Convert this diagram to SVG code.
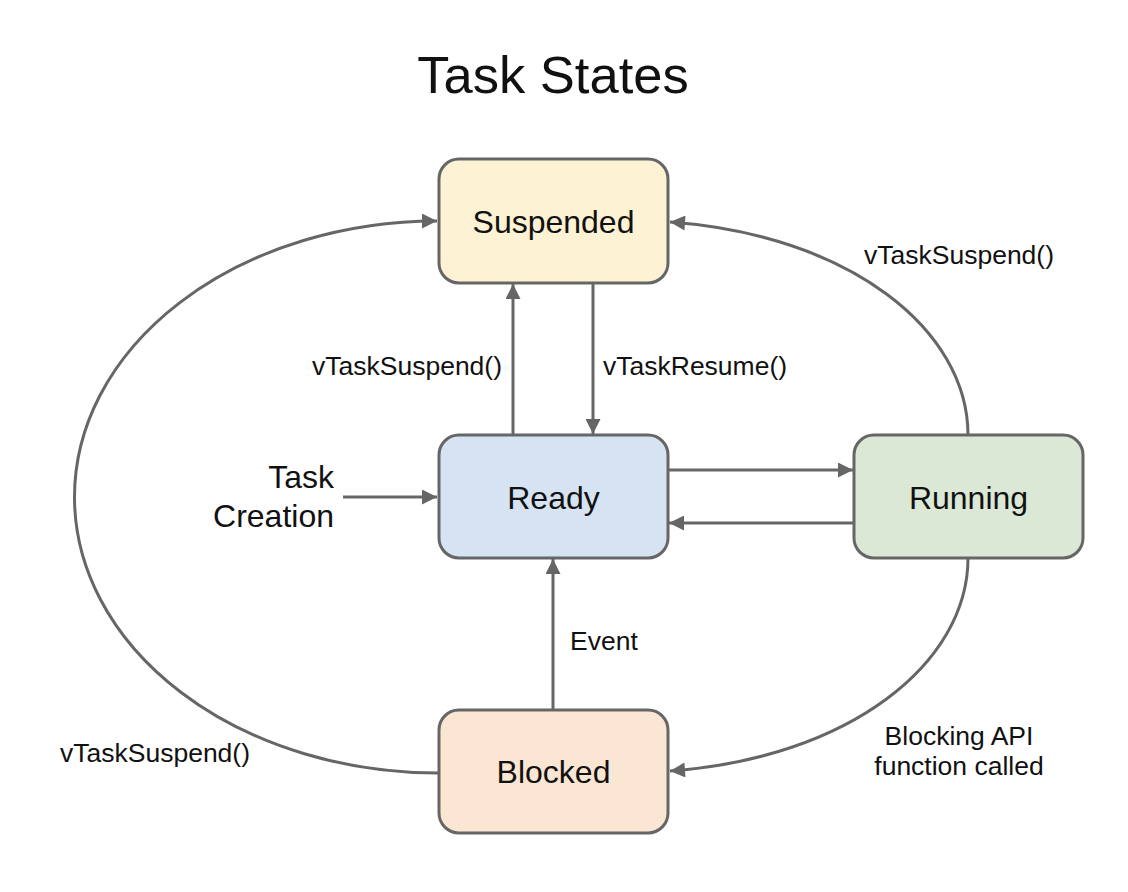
<svg xmlns="http://www.w3.org/2000/svg" width="1128" height="892" viewBox="0 0 1128 892">
<style>
text { font-family: "Liberation Sans", Arial, sans-serif; fill: #111; }
.node { stroke: #666; stroke-width: 3; }
.nl { font-size: 32px; text-anchor: middle; }
.lbl { font-size: 26.5px; }
.edge { fill: none; stroke: #666; stroke-width: 3; marker-end: url(#arr); }
</style>
<defs>
<marker id="arr" markerUnits="userSpaceOnUse" viewBox="0 0 10 10" refX="10" refY="5" markerWidth="17" markerHeight="15" orient="auto">
<path d="M0,0 L10,5 L0,10 z" fill="#666"/>
</marker>
</defs>
<rect width="1128" height="892" fill="#fff"/>
<text x="553" y="93" style="font-size:52.5px;text-anchor:middle">Task States</text>

<g id="connectors">
<path class="edge" d="M513,435 L513,284"/>
<path class="edge" d="M593,283 L593,434"/>
<path class="edge" d="M668,470 L853,470"/>
<path class="edge" d="M854,523 L669,523"/>
<path class="edge" d="M343,497 L437,497"/>
<path class="edge" d="M553,710 L553,559"/>
<path class="edge" d="M968,435 C968,330 850,235 670,222"/>
<path class="edge" d="M968,558 C968,663 850,758 670,771"/>
<path class="edge" d="M438,773 A363,276 0 0 1 437,221"/>
</g>

<g id="suspended">
<rect class="node" x="439" y="159" width="229" height="124" rx="20" fill="#fdf2d3"/>
<text class="nl" x="553.5" y="233">Suspended</text>
</g>
<g id="ready">
<rect class="node" x="439" y="435" width="229" height="123" rx="20" fill="#d6e3f3"/>
<text class="nl" x="553.5" y="509">Ready</text>
</g>
<g id="running">
<rect class="node" x="854" y="435" width="229" height="123" rx="20" fill="#dce8d6"/>
<text class="nl" x="968.5" y="509">Running</text>
</g>
<g id="blocked">
<rect class="node" x="439" y="710" width="229" height="123" rx="20" fill="#fbe6d3"/>
<text class="nl" x="553.5" y="783">Blocked</text>
</g>

<g id="labels">
<text style="font-size:32px;text-anchor:end" x="334" y="488">Task</text>
<text style="font-size:32px;text-anchor:end" x="334" y="527">Creation</text>
<text class="lbl" x="312" y="375">vTaskSuspend()</text>
<text class="lbl" x="603" y="375">vTaskResume()</text>
<text class="lbl" x="864" y="264">vTaskSuspend()</text>
<text class="lbl" x="60" y="762">vTaskSuspend()</text>
<text class="lbl" x="570" y="650">Event</text>
<text class="lbl" x="959" y="745" text-anchor="middle">Blocking API</text>
<text class="lbl" x="959" y="775" text-anchor="middle">function called</text>
</g>
</svg>
